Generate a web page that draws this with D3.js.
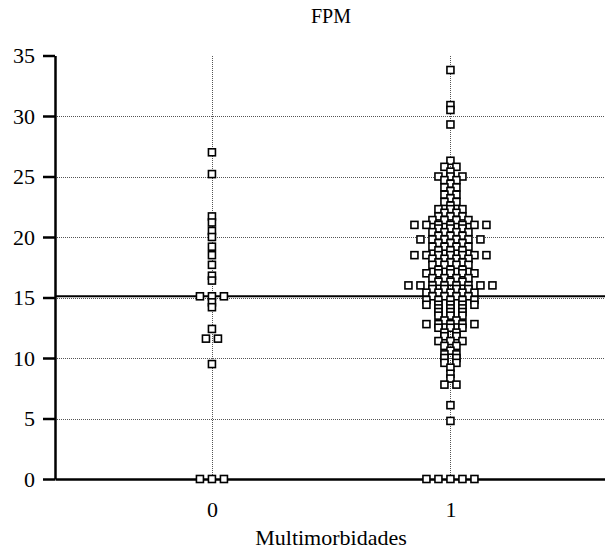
<!DOCTYPE html>
<html>
<head>
<meta charset="utf-8">
<script src="https://cdn.jsdelivr.net/npm/d3@7"></script>
<style>
  body { margin: 0; background: #fff; }
  text { font-family: "Liberation Serif", "Times New Roman", serif; fill: #000; }
</style>
</head>
<body>
<svg width="605" height="552"></svg>
<script>
let width = 605;
let height = 552;

let margin = {
    top: 55.5,
    right: 0,
    bottom: 73,
    left: 55
};

// categories on the x axis
let categories = ["0", "1"];

// FPM values, group Multimorbidades = 0
let group0 = [27.0, 25.2, 21.7, 21.2, 20.5, 20.0, 19.2, 18.5, 17.7, 16.8, 16.4,
    15.1, 15.1, 15.1, 14.6, 14.2, 12.4, 11.6, 11.6, 9.5, 0, 0, 0];

// FPM values, group Multimorbidades = 1 (repeated values = several subjects)
let group1 = [33.8, 30.9, 30.5, 29.3, 26.3, 25.8, 25.8, 25.4,
    25.0, 25.0, 25.0, 24.7, 24.7, 24.4, 24.1, 24.1, 23.8, 23.5, 23.5, 23.2,
    22.9, 22.9, 22.6, 22.3, 22.3, 22.3, 22.0, 22.0, 21.7, 21.7, 21.7, 21.4, 21.4, 21.4, 21.4,
    21.0, 21.0, 21.0, 21.0, 21.0, 21.0, 21.0,
    20.7, 20.7, 20.7, 20.4, 20.4, 20.4, 20.4, 20.1, 20.1, 20.1,
    19.8, 19.8, 19.8, 19.8, 19.8, 19.8,
    19.5, 19.5, 19.5, 19.2, 19.2, 19.2, 19.2, 18.9, 18.9, 18.9,
    18.5, 18.5, 18.5, 18.5, 18.5, 18.5, 18.5,
    18.2, 18.2, 18.2, 18.2, 17.9, 17.9, 17.9, 17.7, 17.7, 17.7, 17.7,
    17.3, 17.3, 17.3, 17.0, 17.0, 17.0, 17.0, 17.0,
    16.6, 16.6, 16.6, 16.6, 16.3, 16.3, 16.3,
    16.0, 16.0, 16.0, 16.0, 16.0, 16.0, 16.0, 16.0,
    15.7, 15.7, 15.7, 15.7, 15.4, 15.4, 15.4, 15.4, 15.4,
    15.1, 15.1, 15.1, 15.1, 14.8, 14.8, 14.8, 14.8, 14.8,
    14.4, 14.4, 14.4, 14.4, 14.4, 14.1, 14.1, 14.1, 13.8, 13.8, 13.8, 13.5, 13.5, 13.5,
    13.1, 13.1, 12.8, 12.8, 12.8, 12.8, 12.8, 12.5, 12.5, 12.5,
    12.1, 12.1, 11.8, 11.8, 11.4, 11.4, 11.4, 11.0, 11.0,
    10.6, 10.3, 10.3, 10.0, 10.0, 9.6, 9.6, 9.2, 8.7, 8.3, 7.8, 7.8,
    6.1, 4.8, 0, 0, 0, 0, 0];

let yTicks = [0, 5, 10, 15, 20, 25, 30, 35];
let gridValues = [5, 10, 15, 20, 25, 30];
let refValue = 15.1;

let svg = d3.select("svg");

let x = d3.scaleLinear()
    .domain([-0.658, 1.648])
    .range([margin.left, width - margin.right]);

let y = d3.scaleLinear()
    .domain([0, 35])
    .range([height - margin.bottom, margin.top]);

// dotted grid
svg.append("g")
    .selectAll("line")
    .data(gridValues)
    .join("line")
    .attr("x1", margin.left)
    .attr("x2", width - margin.right)
    .attr("y1", d => Math.round(y(d)) + 0.5)
    .attr("y2", d => Math.round(y(d)) + 0.5)
    .style("stroke", "#555")
    .style("stroke-width", 1)
    .style("stroke-dasharray", "1,1");

svg.append("g")
    .selectAll("line")
    .data(categories)
    .join("line")
    .attr("x1", (d, i) => Math.round(x(i)) + 0.5)
    .attr("x2", (d, i) => Math.round(x(i)) + 0.5)
    .attr("y1", Math.round(y(35)))
    .attr("y2", Math.round(y(0)))
    .style("stroke", "#555")
    .style("stroke-width", 1)
    .style("stroke-dasharray", "1,1");

// reference line
svg.append("line")
    .attr("x1", margin.left)
    .attr("x2", width - margin.right)
    .attr("y1", y(refValue))
    .attr("y2", y(refValue))
    .style("stroke", "black")
    .style("stroke-width", 2);

// y axis
let yAxis = svg.append("g")
    .attr("transform", `translate(${margin.left},0)`)
    .call(d3.axisLeft(y)
        .tickValues(yTicks)
        .tickSize(12)
        .tickSizeOuter(0)
        .tickPadding(8));
yAxis.select(".domain").style("stroke-width", 2.5);
yAxis.selectAll(".tick line").style("stroke-width", 2.5);
yAxis.selectAll("text")
    .style("font-size", "22px")
    .style("font-family", "'Liberation Serif', serif");

// x axis
let xAxis = svg.append("g")
    .attr("transform", `translate(0,${y(0)})`)
    .call(d3.axisBottom(x)
        .tickValues([0, 1])
        .tickFormat(d => categories[d])
        .tickSize(0)
        .tickSizeOuter(0)
        .tickPadding(22));
xAxis.select(".domain").style("stroke-width", 2.5);
xAxis.selectAll("text")
    .style("font-size", "22px")
    .style("font-family", "'Liberation Serif', serif");

// spread equal values sideways, symmetric around the category
function dodge(values, catIndex) {
    let counts = d3.rollup(values, v => v.length, d => d);
    let seen = new Map();
    let step = 12;
    return values.map(v => {
        let n = counts.get(v);
        let k = seen.get(v) || 0;
        seen.set(v, k + 1);
        return {value: v, cx: x(catIndex) + (k - (n - 1) / 2) * step, cy: y(v)};
    });
}

let points = dodge(group0, 0).concat(dodge(group1, 1));

let size = 7;
svg.append("g")
    .selectAll("rect")
    .data(points)
    .join("rect")
    .attr("x", d => d.cx - size / 2)
    .attr("y", d => d.cy - size / 2)
    .attr("width", size)
    .attr("height", size)
    .style("fill", "white")
    .style("stroke", "black")
    .style("stroke-width", 1.6);

// titles
svg.append("text")
    .attr("x", 331)
    .attr("y", 23)
    .attr("text-anchor", "middle")
    .style("font-size", "20px")
    .text("FPM");

svg.append("text")
    .attr("x", 331)
    .attr("y", 545)
    .attr("text-anchor", "middle")
    .style("font-size", "22px")
    .text("Multimorbidades");
</script>
</body>
</html>
